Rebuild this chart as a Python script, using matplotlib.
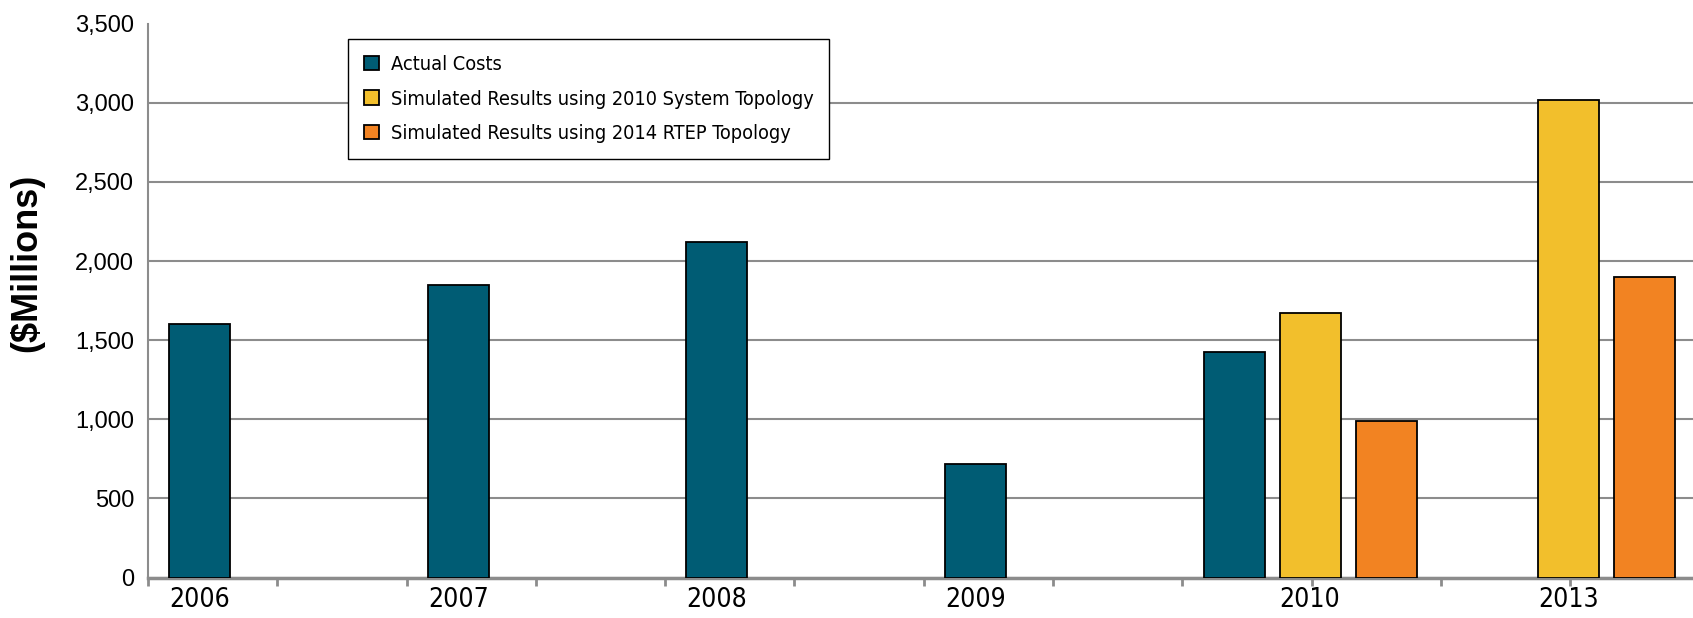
import numpy as np
import matplotlib.pyplot as plt
from matplotlib import font_manager

years = ['2006', '2007', '2008', '2009', '2010', '2013']
actual_costs = [1600, 1850, 2120, 720, 1425, np.nan]
sim_2010_topology = [np.nan, np.nan, np.nan, np.nan, 1670, 3015]
sim_2014_rtep = [np.nan, np.nan, np.nan, np.nan, 990, 1900]

series_names = ['Actual Costs',
                'Simulated Results using 2010 System Topology',
                'Simulated Results using 2014 RTEP Topology']
colors = ['#005C74', '#F2BF2C', '#F28322']

# pick a narrow font if there is one
installed = {f.name for f in font_manager.fontManager.ttflist}
narrow = None
for name in ['Liberation Sans Narrow', 'Arial Narrow']:
    if name in installed:
        narrow = name
        break
if narrow:
    narrow_kw = dict(family=narrow)
else:
    narrow_kw = dict(family='DejaVu Sans', stretch='condensed')
plt.rcParams['font.family'] = ['Liberation Sans', 'DejaVu Sans']

fig = plt.figure(figsize=(16.93, 6.18), dpi=100)
ax = fig.add_axes([0.0874, 0.0654, 0.9126, 0.8963])

slots = [0.2, 0.494, 0.788]
width = 0.236
idx = np.arange(len(years))
all_series = [actual_costs, sim_2010_topology, sim_2014_rtep]
for j, vals in enumerate(all_series):
    ax.bar(idx + slots[j], vals, width=width, color=colors[j],
           edgecolor='black', linewidth=1.3, label=series_names[j], zorder=3)

# labels sit under the single bar, or under the middle bar of a group
label_pos = []
for i in idx:
    only_actual = np.isnan(sim_2010_topology[i]) and np.isnan(sim_2014_rtep[i])
    label_pos.append(i + (slots[0] if only_actual else slots[1]))

ax.set_xlim(0, 5.975)
ax.set_ylim(0, 3500)
ax.set_xticks(label_pos)
ax.set_xticklabels(years, fontsize=19, **narrow_kw)
ax.set_xticks(np.arange(0, 6, 0.5), minor=True)
ax.tick_params(axis='x', which='major', length=0, pad=7)
ax.tick_params(axis='x', which='minor', length=6, width=2, color='#8C8C8C')

ax.set_yticks(np.arange(0, 3501, 500))
ax.set_yticklabels(['{:,}'.format(v) for v in range(0, 3501, 500)], fontsize=17)
ax.tick_params(axis='y', length=0, pad=10)
ax.yaxis.grid(True, color='#8C8C8C', linewidth=1.5, zorder=0)
ax.get_ygridlines()[-1].set_visible(False)
ax.set_axisbelow(True)

for side in ['top', 'right']:
    ax.spines[side].set_visible(False)
ax.spines['left'].set_color('#8C8C8C')
ax.spines['left'].set_linewidth(1.5)
ax.spines['bottom'].set_color('#8C8C8C')
ax.spines['bottom'].set_linewidth(2.5)

ax.set_ylabel('($Millions)', fontsize=26, fontweight='bold')
ax.yaxis.set_label_coords(-0.067, 0.569)

leg = ax.legend(loc='upper left', bbox_to_anchor=(0.1294, 0.972),
                fancybox=False, framealpha=1, edgecolor='black',
                handlelength=0.75, handleheight=0.75, handletextpad=0.6,
                labelspacing=0.78, borderpad=0.8, borderaxespad=0,
                prop=dict(size=14.3, **narrow_kw))
leg.get_frame().set_linewidth(1.0)

plt.savefig('out.png', dpi=100)
